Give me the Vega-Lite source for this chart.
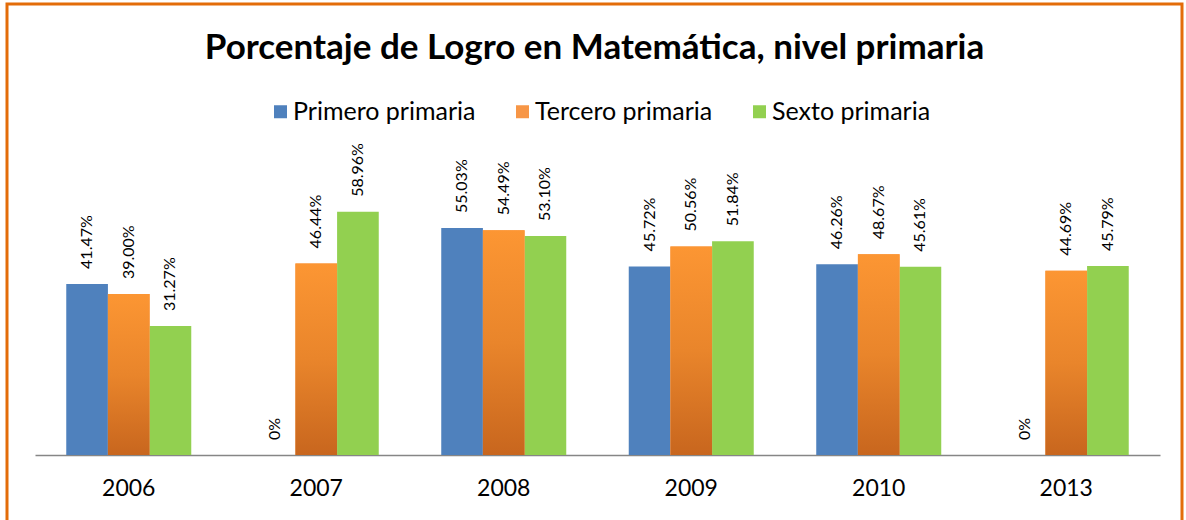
{
  "$schema": "https://vega.github.io/schema/vega-lite/v6.json",
  "autosize": {"type": "none"},
  "width": 1175,
  "height": 530,
  "padding": {"left": 7, "top": 4, "right": 4, "bottom": 0},
  "background": "white",
  "config": {"view": {"stroke": "#E36C09", "strokeWidth": 3}, "font": "Lato"},
  "title": {
    "text": "Porcentaje de Logro en Matemática, nivel primaria",
    "font": "Lato",
    "fontSize": 35,
    "fontWeight": "bold",
    "color": "black",
    "anchor": "middle",
    "baseline": "top",
    "offset": -62
  },
  "data": {
    "values": [
      {"year": "2006", "grade": "Primero primaria", "v": 41.47},
      {"year": "2006", "grade": "Tercero primaria", "v": 39.00},
      {"year": "2006", "grade": "Sexto primaria", "v": 31.27},
      {"year": "2007", "grade": "Primero primaria", "v": 0},
      {"year": "2007", "grade": "Tercero primaria", "v": 46.44},
      {"year": "2007", "grade": "Sexto primaria", "v": 58.96},
      {"year": "2008", "grade": "Primero primaria", "v": 55.03},
      {"year": "2008", "grade": "Tercero primaria", "v": 54.49},
      {"year": "2008", "grade": "Sexto primaria", "v": 53.10},
      {"year": "2009", "grade": "Primero primaria", "v": 45.72},
      {"year": "2009", "grade": "Tercero primaria", "v": 50.56},
      {"year": "2009", "grade": "Sexto primaria", "v": 51.84},
      {"year": "2010", "grade": "Primero primaria", "v": 46.26},
      {"year": "2010", "grade": "Tercero primaria", "v": 48.67},
      {"year": "2010", "grade": "Sexto primaria", "v": 45.61},
      {"year": "2013", "grade": "Primero primaria", "v": 0},
      {"year": "2013", "grade": "Tercero primaria", "v": 44.69},
      {"year": "2013", "grade": "Sexto primaria", "v": 45.79}
    ]
  },
  "transform": [
    {"calculate": "datum.v == 0 ? '0%' : format(datum.v, '.2f') + '%'", "as": "label"}
  ],
  "encoding": {
    "x": {
      "field": "year",
      "type": "nominal",
      "scale": {"range": [28, 1153], "paddingInner": 0.3333, "paddingOuter": 0.1667},
      "axis": {
        "title": null,
        "labelAngle": 0,
        "ticks": false,
        "grid": false,
        "domainColor": "#868686",
        "domainWidth": 1.5,
        "labelFont": "Lato",
        "labelFontSize": 23,
        "labelColor": "black",
        "labelPadding": 22,
        "offset": -79
      }
    },
    "xOffset": {
      "field": "grade",
      "type": "nominal",
      "sort": ["Primero primaria", "Tercero primaria", "Sexto primaria"],
      "scale": {"domain": ["Primero primaria", "Tercero primaria", "Sexto primaria"], "paddingInner": 0, "paddingOuter": 0}
    },
    "y": {
      "field": "v",
      "type": "quantitative",
      "scale": {"domain": [-19.15, 109.33], "nice": false, "zero": false},
      "axis": null
    }
  },
  "layer": [
    {
      "mark": {"type": "bar"},
      "encoding": {
        "color": {
          "field": "grade",
          "type": "nominal",
          "sort": ["Primero primaria", "Tercero primaria", "Sexto primaria"],
          "scale": {
            "domain": ["Primero primaria", "Tercero primaria", "Sexto primaria"],
            "range": ["#4F81BD", "#F79646", "#92D050"]
          },
          "legend": {
            "title": null,
            "orient": "none",
            "legendX": 261,
            "legendY": 95,
            "direction": "horizontal",
            "symbolType": "square",
            "symbolSize": 169,
            "symbolStrokeWidth": 0,
            "labelFont": "Lato",
            "labelFontSize": 25,
            "labelColor": "black",
            "labelOffset": 0,
            "labelLimit": 400,
            "columnPadding": 34,
            "padding": 0,
            "encode": {
              "symbols": {
                "update": {
                  "fill": {"signal": "datum.value === 'Tercero primaria' ? {gradient: 'linear', x1: 0, y1: 0, x2: 0, y2: 1, stops: [{offset: 0, color: '#FC9633'}, {offset: 1, color: '#C8661E'}]} : scale('color', datum.value)"}
                }
              }
            }
          }
        }
      }
    },
    {
      "transform": [{"filter": "datum.grade === 'Tercero primaria'"}],
      "mark": {
        "type": "bar",
        "fill": {
          "gradient": "linear",
          "x1": 0, "y1": 0, "x2": 0, "y2": 1,
          "stops": [
            {"offset": 0, "color": "#FC9633"},
            {"offset": 0.5, "color": "#E9852B"},
            {"offset": 1, "color": "#C8661E"}
          ]
        }
      }
    },
    {
      "mark": {
        "type": "text",
        "angle": 270,
        "align": "left",
        "baseline": "middle",
        "yOffset": -15,
        "font": "Lato",
        "fontSize": 16,
        "color": "black"
      },
      "encoding": {"text": {"field": "label"}}
    }
  ]
}
